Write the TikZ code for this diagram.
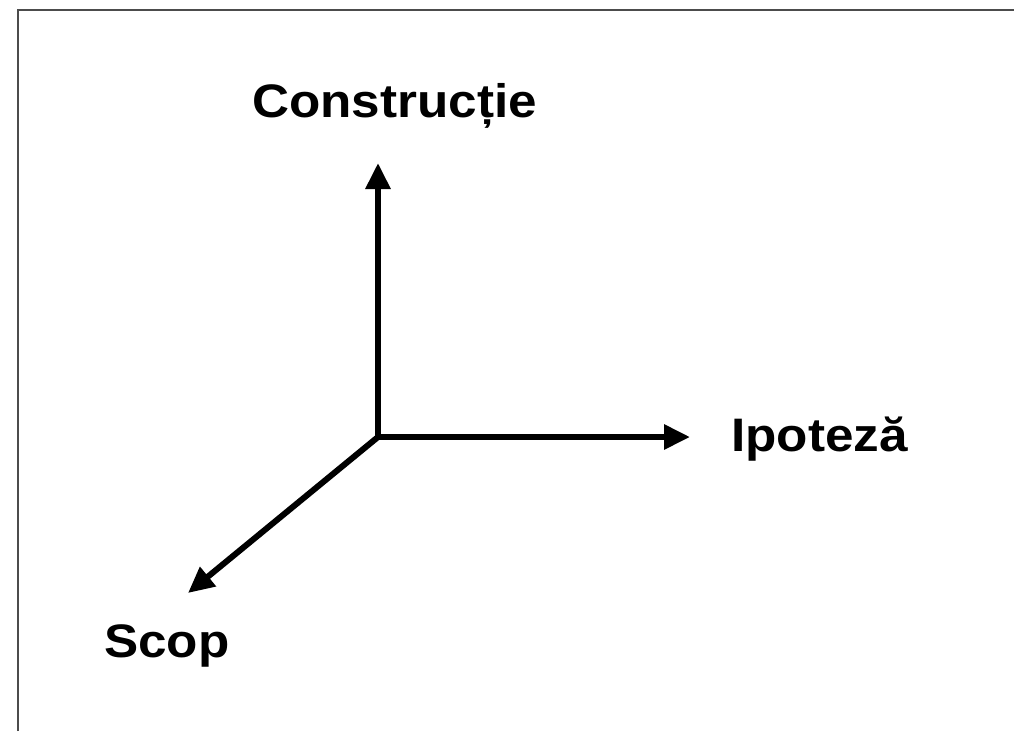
\documentclass[tikz,border=0pt]{standalone}
\usepackage{fontspec}
\setmainfont{Liberation Sans}
\newfontfamily\widesans[FakeStretch=1.09]{Liberation Sans}
\usetikzlibrary{arrows.meta}
\begin{document}
\begin{tikzpicture}[x=1pt,y=-1pt,
  axis/.style={line width=6pt,-{Triangle[length=26pt,width=24pt]}},
  lbl/.style={anchor=base west,inner sep=0pt,font=\widesans\fontsize{47}{56}\selectfont\bfseries}]
\useasboundingbox (0,0) rectangle (1014,731);
\draw[line width=1.5pt,black!70] (18,731) -- (18,10) -- (1014,10);
\coordinate (o) at (378,437);
\coordinate (tc) at (378,163);
\coordinate (ti) at (690,437);
\coordinate (ts) at (188,593);
\draw[axis] (o) -- (tc);
\draw[axis] ([xshift=-3pt]o) -- (ti);
\draw[axis] (o) -- (ts);
\node[lbl] (c) at (252,117) {Construcție};
\node[lbl] (i) at (731,451) {Ipoteză};
\node[lbl] (s) at (104,657) {Scop};
\end{tikzpicture}
\end{document}
